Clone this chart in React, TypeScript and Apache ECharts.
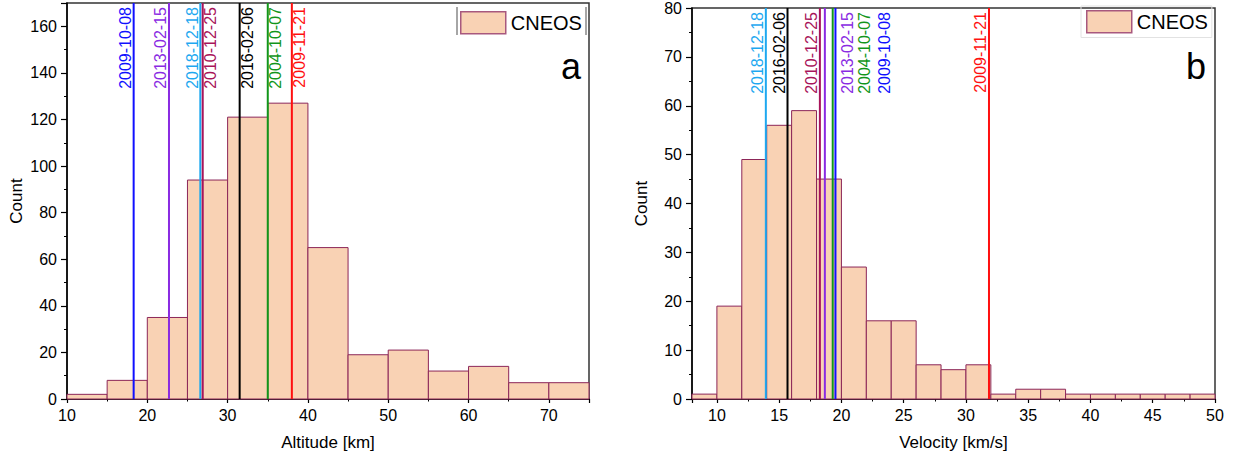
import React, { useEffect, useRef } from 'react';
import * as echarts from 'echarts';

// ---------- data ----------
const altitudeBinStarts = [10, 15, 20, 25, 30, 35, 40, 45, 50, 55, 60, 65, 70];
const altitudeBinWidth = 5;
const altitudeCounts = [2, 8, 35, 94, 121, 127, 65, 19, 21, 12, 14, 7, 7];

const velocityBinStarts = [8, 10, 12, 14, 16, 18, 20, 22, 24, 26, 28, 30, 32, 34, 36, 38, 40, 42, 44, 46, 48];
const velocityBinWidth = 2;
const velocityCounts = [1, 19, 49, 56, 59, 45, 27, 16, 16, 7, 6, 7, 1, 2, 2, 1, 1, 1, 1, 1, 1];

const eventDates = ['2009-10-08', '2013-02-15', '2018-12-18', '2010-12-25', '2016-02-06', '2004-10-07', '2009-11-21'];
const eventAltitudes = [18.3, 22.7, 26.6, 26.9, 31.5, 35.0, 38.0];
const eventVelocities = [19.52, 18.67, 13.93, 18.27, 15.67, 19.3, 31.85];

const altitudeTicks = { min: 10, max: 75, interval: 10 };
const countTicksA = { min: 0, max: 170, interval: 20 };
const velocityTicks = { min: 8, max: 50 };
const countTicksB = { min: 0, max: 80, interval: 10 };

// ---------- styles ----------
const eventColors = ['#1010FF', '#8A2BE2', '#1EA8F0', '#A8145A', '#000000', '#12961A', '#FF1010'];
// label placement: side of the line and extra pixel offset
const altLabelSide = ['left', 'left', 'left', 'right', 'right', 'right', 'right'];
const altLabelExtra = [0, 0, 0, 0, 0, 0, 0];
const velLabelSide = ['right', 'right', 'left', 'left', 'left', 'right', 'left'];
const velLabelExtra = [41, 15, 0, 0, 0, 24, 0];

const FONT = '"Liberation Sans", Arial, Helvetica, sans-serif';
const BAR_FILL = '#F9D2B4';
const BAR_STROKE = '#8C2658';

function histData(starts: number[], width: number, counts: number[]) {
  return starts.map((s, i) => [s, s + width, counts[i]]);
}

function histSeries(gridIdx: number, data: number[][]) {
  return {
    type: 'custom',
    name: 'CNEOS',
    xAxisIndex: gridIdx,
    yAxisIndex: gridIdx,
    itemStyle: { color: BAR_FILL, borderColor: BAR_STROKE },
    encode: { x: [0, 1], y: 2 },
    data,
    z: 2,
    renderItem: (_params: any, api: any) => {
      const x0 = api.value(0);
      const x1 = api.value(1);
      const y = api.value(2);
      const p0 = api.coord([x0, y]);
      const p1 = api.coord([x1, 0]);
      return {
        type: 'rect',
        shape: { x: p0[0], y: p0[1], width: p1[0] - p0[0], height: p1[1] - p0[1] },
        style: { fill: BAR_FILL, stroke: BAR_STROKE, lineWidth: 1 },
      };
    },
  };
}

function eventLineSeries(gridIdx: number, xs: number[], yMax: number) {
  return xs.map((x, i) => ({
    type: 'line',
    name: eventDates[i],
    xAxisIndex: gridIdx,
    yAxisIndex: gridIdx,
    data: [[x, 0], [x, yMax]],
    symbol: 'none',
    lineStyle: { color: eventColors[i], width: 2 },
    z: 5,
    silent: true,
  }));
}

function xAxisCfg(gridIdx: number, name: string, extra: any, majorLen: number, minorLen: number) {
  return {
    gridIndex: gridIdx,
    type: 'value',
    name,
    nameLocation: 'middle',
    nameGap: 35,
    nameTextStyle: { fontSize: 17, color: '#000', fontFamily: FONT },
    axisLine: { onZero: false, lineStyle: { color: '#000', width: 1.5 } },
    axisTick: { show: true, inside: false, length: majorLen, lineStyle: { color: '#000', width: 1.2 } },
    minorTick: { show: true, splitNumber: 2, length: minorLen, lineStyle: { color: '#000', width: 1 } },
    axisLabel: { fontSize: 16, color: '#000', fontFamily: FONT, margin: 8 },
    splitLine: { show: false },
    minorSplitLine: { show: false },
    ...extra,
  };
}

function yAxisCfg(gridIdx: number, extra: any) {
  return {
    gridIndex: gridIdx,
    type: 'value',
    name: 'Count',
    nameLocation: 'middle',
    nameGap: 42,
    nameTextStyle: { fontSize: 17, color: '#000', fontFamily: FONT },
    axisLine: { show: true, lineStyle: { color: '#000', width: 1.5 } },
    axisTick: { show: true, inside: false, length: 6, lineStyle: { color: '#000', width: 1.2 } },
    minorTick: { show: true, splitNumber: 2, length: 3, lineStyle: { color: '#000', width: 1 } },
    axisLabel: { fontSize: 16, color: '#000', fontFamily: FONT, margin: 10 },
    splitLine: { show: false },
    minorSplitLine: { show: false },
    ...extra,
  };
}

export default function App() {
  const ref = useRef<HTMLDivElement>(null);

  useEffect(() => {
    if (!ref.current) return;
    const chart = echarts.init(ref.current, undefined, { renderer: 'svg' });

    const legendCommon = {
      data: ['CNEOS'],
      orient: 'horizontal',
      icon: 'rect',
      itemWidth: 45,
      itemHeight: 22,
      itemGap: 6,
      selectedMode: false,
      textStyle: { fontSize: 20, color: '#000', fontFamily: FONT },
      itemStyle: { color: BAR_FILL, borderColor: '#A8587E', borderWidth: 1.5 },
    };

    const option: any = {
      animation: false,
      backgroundColor: '#ffffff',
      textStyle: { fontFamily: FONT },
      grid: [
        { left: 67, top: 3, width: 522, height: 396, show: true, borderColor: '#333', borderWidth: 1.5, backgroundColor: 'transparent' },
        { left: 692, top: 3, width: 523, height: 396, show: true, borderColor: '#333', borderWidth: 1.5, backgroundColor: 'transparent' },
      ],
      xAxis: [
        xAxisCfg(0, 'Altitude [km]', {
          min: altitudeTicks.min,
          max: altitudeTicks.max,
          interval: altitudeTicks.interval,
          axisLabel: { fontSize: 16, color: '#000', fontFamily: FONT, margin: 8, showMaxLabel: false },
        }, 4, 2.5),
        xAxisCfg(1, 'Velocity [km/s]', {
          min: velocityTicks.min,
          max: velocityTicks.max,
          splitNumber: 8,
          axisLabel: { fontSize: 16, color: '#000', fontFamily: FONT, margin: 8, showMinLabel: false },
        }, 4, 2.5),
      ],
      yAxis: [
        yAxisCfg(0, {
          min: countTicksA.min,
          max: countTicksA.max,
          interval: countTicksA.interval,
          axisLabel: { fontSize: 16, color: '#000', fontFamily: FONT, margin: 10, showMaxLabel: false },
        }),
        yAxisCfg(1, {
          min: countTicksB.min,
          max: countTicksB.max,
          interval: countTicksB.interval,
        }),
      ],
      legend: [
        { ...legendCommon, left: 455, top: 6 },
        { ...legendCommon, left: 1081, top: 6, borderColor: '#e2e2e2', borderWidth: 1, padding: [4, 4, 4, 5] },
      ],
      series: [
        histSeries(0, histData(altitudeBinStarts, altitudeBinWidth, altitudeCounts)),
        histSeries(1, histData(velocityBinStarts, velocityBinWidth, velocityCounts)),
        ...eventLineSeries(0, eventAltitudes, countTicksA.max),
        ...eventLineSeries(1, eventVelocities, countTicksB.max),
      ],
    };

    chart.setOption(option);

    // event labels, positioned through the chart's own scales
    const graphics: any[] = [];
    const addLabels = (gridIdx: number, xs: number[], yMax: number, sides: string[], extras: number[]) => {
      xs.forEach((x, i) => {
        const p = chart.convertToPixel({ gridIndex: gridIdx }, [x, yMax]) as number[];
        const right = sides[i] === 'right';
        graphics.push({
          type: 'text',
          x: p[0] + (right ? extras[i] : -extras[i]),
          y: p[1] + 4,
          rotation: Math.PI / 2,
          z: 100,
          style: {
            text: eventDates[i],
            fill: eventColors[i],
            font: `16px ${FONT}`,
            align: 'right',
            verticalAlign: right ? 'top' : 'bottom',
            textAlign: 'right',
            textVerticalAlign: right ? 'top' : 'bottom',
          },
        });
      });
    };
    addLabels(0, eventAltitudes, countTicksA.max, altLabelSide, altLabelExtra);
    addLabels(1, eventVelocities, countTicksB.max, velLabelSide, velLabelExtra);

    // panel letters
    graphics.push({
      type: 'text', x: 581, y: 84, z: 100,
      style: { text: 'a', fill: '#000', font: `36px ${FONT}`, align: 'right', verticalAlign: 'bottom', textAlign: 'right', textVerticalAlign: 'bottom' },
    });
    graphics.push({
      type: 'text', x: 1206, y: 84, z: 100,
      style: { text: 'b', fill: '#000', font: `36px ${FONT}`, align: 'right', verticalAlign: 'bottom', textAlign: 'right', textVerticalAlign: 'bottom' },
    });
    // side bars of the first legend frame
    graphics.push({ type: 'line', z: 100, shape: { x1: 457, y1: 7, x2: 457, y2: 35 }, style: { stroke: '#888', lineWidth: 1.5 } });
    graphics.push({ type: 'line', z: 100, shape: { x1: 586, y1: 7, x2: 586, y2: 35 }, style: { stroke: '#888', lineWidth: 1.5 } });

    chart.setOption({ graphic: graphics });

    return () => chart.dispose();
  }, []);

  return (
    <div
      ref={ref}
      style={{ position: 'fixed', left: 0, top: 0, width: 1237, height: 460, background: '#fff' }}
    />
  );
}
